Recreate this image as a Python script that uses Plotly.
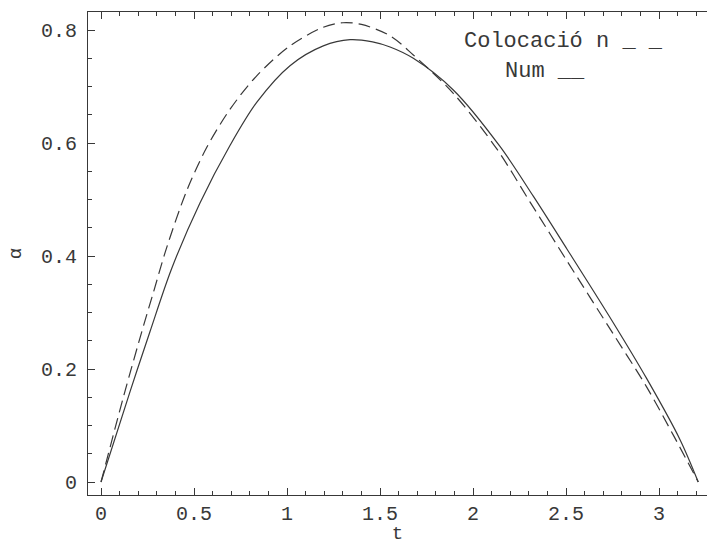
import plotly.graph_objects as go

# Numerical solution (solid line)
t_num = [0, 0.156, 0.263, 0.38, 0.532, 0.694, 0.837, 1.016, 1.195, 1.339, 1.46,
         1.554, 1.679, 1.894, 2.145, 2.324, 2.504, 2.754, 2.934, 3.113, 3.211]
a_num = [0, 0.160, 0.266, 0.378, 0.494, 0.596, 0.672, 0.737, 0.772, 0.783, 0.779,
         0.770, 0.750, 0.694, 0.594, 0.506, 0.413, 0.282, 0.183, 0.075, 0.0]

# Collocation solution (dashed line)
t_col = [0, 0.12, 0.227, 0.281, 0.353, 0.46, 0.568, 0.694, 0.837, 1.016, 1.195, 1.30,
         1.40, 1.554, 1.679, 1.894, 2.127, 2.306, 2.504, 2.754, 2.934, 3.077, 3.211]
a_col = [0, 0.150, 0.275, 0.335, 0.415, 0.515, 0.592, 0.660, 0.719, 0.772, 0.805, 0.813,
         0.810, 0.790, 0.756, 0.688, 0.590, 0.496, 0.392, 0.262, 0.168, 0.083, 0.0]

x_ticks = [0, 0.5, 1, 1.5, 2, 2.5, 3]
x_tick_text = ["0", "0.5", "1", "1.5", "2", "2.5", "3"]
y_ticks = [0, 0.2, 0.4, 0.6, 0.8]
y_tick_text = ["0", "0.2", "0.4", "0.6", "0.8"]

legend_col = "Colocació n _ _"
legend_num = "Num __"

INK = "#383838"
FONT = "Liberation Mono, Courier New, monospace"

fig = go.Figure()
fig.add_trace(go.Scatter(x=t_col, y=a_col, mode="lines", line_shape="spline",
                         line=dict(color=INK, width=1.2, dash="12px,6px", smoothing=0.9),
                         showlegend=False))
fig.add_trace(go.Scatter(x=t_num, y=a_num, mode="lines", line_shape="spline",
                         line=dict(color=INK, width=1.2, smoothing=0.9),
                         showlegend=False))

fig.add_annotation(x=1.94, y=0.779, xref="x", yref="y", text=legend_col,
                   showarrow=False, xanchor="left", yanchor="middle",
                   font=dict(family=FONT, size=22, color=INK))
fig.add_annotation(x=2.161, y=0.726, xref="x", yref="y", text=legend_num,
                   showarrow=False, xanchor="left", yanchor="middle",
                   font=dict(family=FONT, size=22, color=INK))

fig.update_layout(
    width=707, height=545,
    margin=dict(l=88, r=0, t=12, b=50),
    paper_bgcolor="white", plot_bgcolor="white",
    font=dict(family=FONT, size=20, color=INK),
    xaxis=dict(range=[-0.07, 3.258], showgrid=False, zeroline=False,
               showline=True, linecolor=INK, linewidth=1.2, mirror="ticks",
               ticks="inside", ticklen=7, tickcolor=INK, tickwidth=1,
               tickvals=x_ticks, ticktext=x_tick_text,
               minor=dict(dtick=0.1, ticks="inside", ticklen=4, tickcolor=INK, showgrid=False),
               title=dict(text="t", standoff=0, font=dict(size=19))),
    yaxis=dict(range=[-0.023, 0.832], showgrid=False, zeroline=False,
               showline=True, linecolor=INK, linewidth=1.2,
               ticks="inside", ticklen=7, tickcolor=INK, tickwidth=1,
               tickvals=y_ticks, ticktext=y_tick_text, ticklabelstandoff=6,
               minor=dict(dtick=0.05, ticks="inside", ticklen=4, tickcolor=INK, showgrid=False),
               title=dict(text="α", standoff=14, font=dict(size=19))),
)

fig.write_html("out.html")
